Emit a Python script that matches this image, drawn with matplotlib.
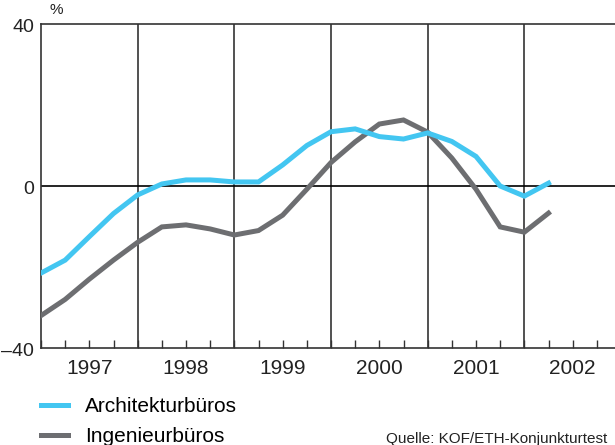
import matplotlib
matplotlib.use("Agg")
import matplotlib.pyplot as plt
from matplotlib.transforms import ScaledTranslation
import numpy as np
import pandas as pd

plt.rcParams['font.family'] = ['Liberation Sans', 'DejaVu Sans']

# quarterly balances, 1997Q1 - 2002Q2
quarters = pd.period_range("1997Q1", "2002Q2", freq="Q")
architektur = [-21.5, -18.3, -12.5, -6.8, -2.2, 0.5, 1.5, 1.5, 1.0, 1.0, 5.2, 10.0,
               13.4, 14.1, 12.2, 11.6, 13.1, 11.0, 7.3, 0.0, -2.5, 0.7]
ingenieur = [-32.0, -28.0, -23.0, -18.3, -13.9, -10.1, -9.6, -10.6, -12.1, -11.0, -7.2, -0.8,
             5.8, 10.9, 15.3, 16.3, 13.3, 6.9, -0.8, -10.1, -11.4, -6.7]
years = [1997, 1998, 1999, 2000, 2001, 2002]
yticks = [-40, 0, 40]
ytick_labels = ["\u201340", "0", "40"]

BLUE = "#43C6F1"
GREY = "#6D6E71"
DARK = "#333333"
TEXT = "#222222"

x = np.array([q.year + (q.quarter - 1) / 4 for q in quarters])

fig = plt.figure(figsize=(6.15, 4.45), dpi=100)
ax = fig.add_axes([41 / 615, 97 / 445, 580 / 615, 324 / 445])

l1, = ax.plot(x, architektur, color=BLUE, lw=3.6, solid_joinstyle='miter', zorder=4,
              label="Architekturbüros")
l2, = ax.plot(x, ingenieur, color=GREY, lw=3.6, solid_joinstyle='miter', zorder=3,
              label="Ingenieurbüros")

ax.set_xlim(1997, 2003)
ax.set_ylim(-40, 40)

for yr in years[1:]:
    ax.axvline(yr, color=DARK, lw=1.2, zorder=2)
ax.axhline(0, color="black", lw=1.2, zorder=2)

for side in ['left', 'top', 'bottom']:
    ax.spines[side].set_color(DARK)
    ax.spines[side].set_linewidth(1.2)
ax.spines['right'].set_visible(False)

# year labels sit on the mid-year tick, other quarters are minor ticks
ax.set_xticks([y + 0.5 for y in years])
ax.set_xticklabels([str(y) for y in years], fontsize=15, color=TEXT)
ax.set_xticks([y + q for y in years for q in (0.0, 0.25, 0.75)], minor=True)
ax.tick_params(axis='x', which='both', direction='in', length=6, width=1.0, color=DARK, pad=8)

ax.set_yticks(yticks)
ax.set_yticklabels(ytick_labels, fontsize=14, color=TEXT)
ax.tick_params(axis='y', length=0, pad=5)
offs = ScaledTranslation(0, 5 / 100, fig.dpi_scale_trans)
for lab in ax.get_yticklabels():
    lab.set_va('top')
    lab.set_transform(lab.get_transform() + offs)

fig.text(50 / 615, 1 - 14 / 445, "%", fontsize=11, color=TEXT, va='baseline')

fig.legend(handles=[l1, l2], loc='upper left', bbox_to_anchor=(41 / 615, 1 - 397 / 445),
           frameon=False, fontsize=15, handlelength=1.3, handletextpad=0.8,
           labelspacing=0.55, borderpad=0, borderaxespad=0)

fig.text(386 / 615, 1 - 443 / 445, "Quelle: KOF/ETH-Konjunkturtest", fontsize=11,
         color=TEXT, va='baseline')

fig.savefig("out.png", dpi=100)
